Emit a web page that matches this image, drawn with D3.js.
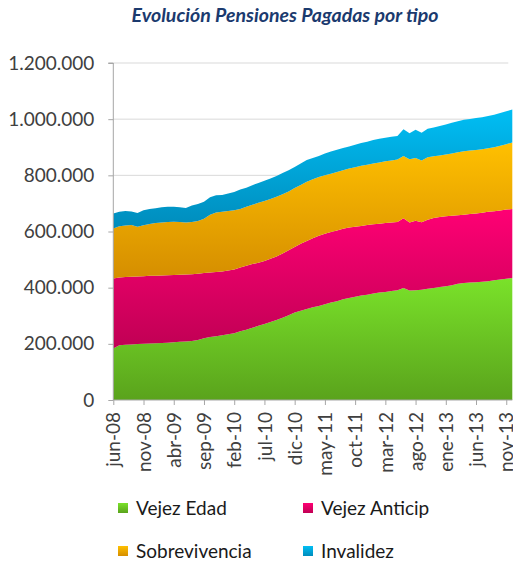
<!DOCTYPE html>
<html><head><meta charset="utf-8">
<script src="https://cdn.jsdelivr.net/npm/d3@7"></script>
<style>body{margin:0;background:#fff}svg{display:block}</style>
</head><body><svg id="c" width="513" height="562"></svg>
<script>
const title = "Evolución Pensiones Pagadas por tipo";
const monthNames = ["ene","feb","mar","abr","may","jun","jul","ago","sep","oct","nov","dic"];
// categories: jun-08 .. dic-13
const months = [];
for (let yy = 8; yy <= 13; yy++) for (let m = 0; m < 12; m++) {
  if (yy === 8 && m < 5) continue;
  months.push(monthNames[m] + "-" + String(yy).padStart(2, "0"));
}
const seriesNames = ["Vejez Edad", "Vejez Anticip", "Sobrevivencia", "Invalidez"];
// values in thousands
const vejezEdad = [183,195,197,198,199,200,201,202,203,204,206,207,208,210,214,220,224,227,231,234,238,245,250,257,264,271,278,285,293,302,312,318,324,330,335,341,347,352,359,363,368,372,375,379,383,385,388,391,399,390,391,393,396,399,402,405,409,414,417,418,419,421,423,426,429,432,434];
const vejezAnticip = [250,241,241,241,241,241,241,240,240,240,239,239,239,238,236,232,230,229,227,227,227,227,228,227,225,224,225,226,229,231,233,238,242,246,250,251,251,252,251,251,249,248,248,247,245,245,244,243,248,242,247,240,246,249,250,249,247,244,243,244,245,246,247,246,246,246,246];
const sobrevivencia = [178,183,183,184,177,181,185,188,189,190,190,188,185,186,187,193,206,212,212,212,211,208,210,211,213,214,213,213,211,209,210,210,211,210,209,208,208,208,208,210,212,214,215,216,218,220,221,222,222,225,224,220,222,220,219,220,222,224,226,226,226,226,226,228,230,233,237];
const invalidez = [53,51,52,48,49,54,53,53,54,54,53,52,52,59,61,61,62,61,60,62,65,70,68,70,71,72,73,74,75,76,75,76,78,76,75,78,79,79,79,79,80,81,82,84,84,84,84,84,95,93,100,99,102,102,105,107,109,111,112,113,114,114,115,116,117,117,117];
const yTicks = [0,200000,400000,600000,800000,1000000,1200000];
const colors = [
  ["#7ae22a", "#5aa31c"],
  ["#ff0074", "#c00054"],
  ["#ffc000", "#d58e00"],
  ["#00bef4", "#008cbc"]
];

const data = months.map((m, i) => ({
  month: m,
  "Vejez Edad": vejezEdad[i] * 1000,
  "Vejez Anticip": vejezAnticip[i] * 1000,
  "Sobrevivencia": sobrevivencia[i] * 1000,
  "Invalidez": invalidez[i] * 1000
}));

const svg = d3.select("#c");
const font = "Lato, 'Open Sans', sans-serif";
const pLeft = 113.3, pRight = 512.3, pTop = 63, pBottom = 400;

const x = d3.scalePoint().domain(months).range([pLeft, pRight]);
const y = d3.scaleLinear().domain([0, 1200000]).range([pBottom, pTop]);

const loc = d3.formatLocale({decimal: ",", thousands: ".", grouping: [3], currency: ["", ""]});
const fmt = loc.format(",.0f");

// title
svg.append("text").attr("x", 285).attr("y", 22).attr("text-anchor", "middle")
  .attr("font-family", font).attr("font-size", 19.5).attr("font-weight", "bold")
  .attr("font-style", "italic").attr("fill", "#1b3a6e").text(title);

// gridlines
svg.append("g").selectAll("line").data(yTicks.filter(d => d > 0)).join("line")
  .attr("x1", pLeft).attr("x2", pRight - 4).attr("y1", d => y(d)).attr("y2", d => y(d))
  .attr("stroke", "#d9d9d9").attr("stroke-width", 1);

// gradients
const defs = svg.append("defs");
seriesNames.forEach((s, i) => {
  const g = defs.append("linearGradient").attr("id", "g" + i)
    .attr("x1", 0).attr("y1", 0).attr("x2", 0).attr("y2", 1);
  g.append("stop").attr("offset", "0%").attr("stop-color", colors[i][0]);
  g.append("stop").attr("offset", "100%").attr("stop-color", colors[i][1]);
});

const stack = d3.stack().keys(seriesNames);
const layers = stack(data);
const area = d3.area().x(d => x(d.data.month)).y0(d => y(d[0])).y1(d => y(d[1]));
svg.append("g").selectAll("path").data(layers).join("path")
  .attr("d", area).attr("fill", (d, i) => `url(#g${i})`);

// axes
const axisColor = "#a6a6a6";
const yAxis = svg.append("g").attr("transform", `translate(${pLeft},0)`)
  .call(d3.axisLeft(y).tickValues(yTicks).tickFormat(fmt).tickSize(5).tickPadding(14));
const xAxis = svg.append("g").attr("transform", `translate(0,${pBottom})`)
  .call(d3.axisBottom(x).tickValues(months.filter((d, i) => i % 5 === 0)).tickSize(5).tickPadding(4));
[yAxis, xAxis].forEach(a => {
  a.selectAll("path,line").attr("stroke", axisColor);
  a.selectAll("text").attr("font-family", font).attr("font-size", 19).attr("fill", "#404040");
});
yAxis.select(".domain").attr("d", `M-5,${pTop}H0V${pBottom}`);
xAxis.select(".domain").attr("d", `M${pLeft},0H${pRight}`);
xAxis.selectAll("text").attr("transform", "rotate(-90)").attr("text-anchor", "end")
  .attr("x", -12).attr("y", 0).attr("dy", "0.35em");

// legend
const legendPos = [[118, 503], [303, 503], [118, 546], [303, 546]];
const lg = svg.append("g").selectAll("g").data(seriesNames).join("g")
  .attr("transform", (d, i) => `translate(${legendPos[i][0]},${legendPos[i][1]})`);
lg.append("rect").attr("width", 10).attr("height", 10).attr("fill", (d, i) => `url(#g${i})`);
lg.append("text").attr("x", 18).attr("y", 11.5).attr("font-family", font).attr("font-size", 19)
  .attr("fill", "#1a1a1a").text(d => d);
</script></body></html>
